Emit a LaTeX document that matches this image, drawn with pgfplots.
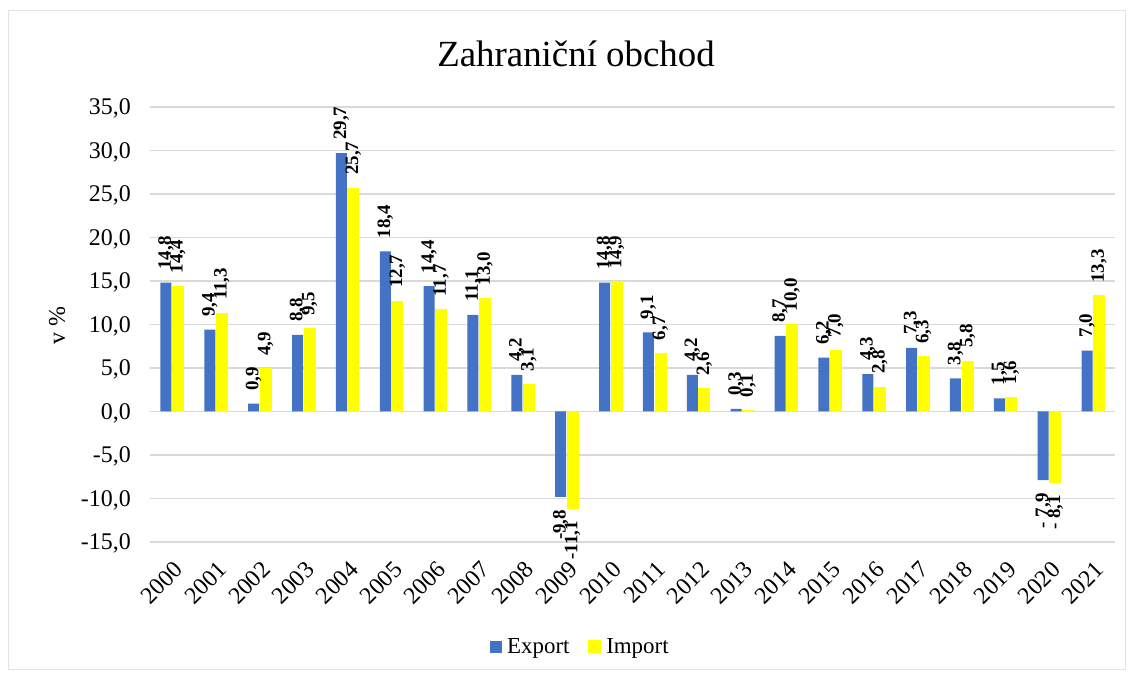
\documentclass[border=0pt]{standalone}
\usepackage{fontspec}
\setmainfont{Liberation Serif}
\usepackage{pgfplots}
\usepackage{pgfplotstable}
\pgfplotsset{compat=1.18}
\definecolor{cexp}{HTML}{4472C4}
\definecolor{cimp}{HTML}{FFFF00}
\definecolor{cgrid}{HTML}{D9D9D9}
\definecolor{cframe}{HTML}{E3E3E3}
\pgfplotstableread{
x exp imp lexp limp
0 14.8 14.4 14,8 14,4
1 9.4 11.3 9,4 11,3
2 0.9 4.9 0,9 4,9
3 8.8 9.5 8,8 9,5
4 29.7 25.7 29,7 25,7
5 18.4 12.7 18,4 12,7
6 14.4 11.7 14,4 11,7
7 11.1 13.0 11,1 13,0
8 4.2 3.1 4,2 3,1
9 -9.8 -11.1 -9,8 -11,1
10 14.8 14.9 14,8 14,9
11 9.1 6.7 9,1 6,7
12 4.2 2.6 4,2 2,6
13 0.3 0.1 0,3 0,1
14 8.7 10.0 8,7 10,0
15 6.2 7.0 6,2 7,0
16 4.3 2.8 4,3 2,8
17 7.3 6.3 7,3 6,3
18 3.8 5.8 3,8 5,8
19 1.5 1.6 1,5 1,6
20 -7.9 -8.1 {- 7,9} {- 8,1}
21 7.0 13.3 7,0 13,3
}\datatable
\pgfplotsset{
  lbl/.style={forget plot, draw=none, fill=none, point meta=explicit symbolic,
    nodes near coords,
    nodes near coords style={font=\fontsize{19}{20}\selectfont\bfseries, rotate=90,
      inner xsep=13bp, inner ysep=0bp, anchor=#1}},
}
\begin{document}
\begin{tikzpicture}
\useasboundingbox (0,0) rectangle (1133bp,677bp);
\draw[cframe, line width=1bp] (8bp,7bp) rectangle (1125bp,666bp);
\node[anchor=base, font=\fontsize{37}{40}\selectfont] at (576bp,610bp) {Zahraniční obchod};
\begin{axis}[
  at={(150bp,135bp)}, anchor=south west,
  width=965bp, height=435bp, scale only axis,
  clip=false,
  ybar, bar width=11bp,
  xmin=-0.5, xmax=21.5, ymin=-15, ymax=35,
  enlargelimits=false,
  xtick={0,...,21},
  xticklabels={2000,2001,2002,2003,2004,2005,2006,2007,2008,2009,2010,2011,2012,2013,2014,2015,2016,2017,2018,2019,2020,2021},
  ytick={-15,-10,...,35},
  axis line style={draw=none},
  major tick length=0pt,
  ymajorgrids, grid style={cgrid, line width=1.2bp},
  /pgf/number format/assume math mode=true,
  yticklabel={\pgfmathprintnumber[fixed,fixed zerofill,precision=1,use comma]{\tick}},
  yticklabel style={font=\fontsize{24}{26}\selectfont, inner sep=0pt, xshift=-19bp, yshift=-8bp, anchor=base east},
  xticklabel style={font=\fontsize{24}{26}\selectfont, inner sep=0pt, xshift=1bp, yshift=-18bp, rotate=45, anchor=north east},
  ylabel={v \%},
  ylabel style={font=\fontsize{24}{26}\selectfont, at={(axis description cs:-0.0964,0.4966)}, anchor=center},
  legend style={at={(axis description cs:0.446,-0.241)}, anchor=center, draw=none, fill=none,
    legend columns=2, font=\fontsize{23}{25}\selectfont,
    /tikz/every odd column/.append style={column sep=3bp},
    /tikz/every even column/.append style={column sep=17bp}},
  legend image code/.code={\fill[#1] (0bp,-6bp) rectangle (12bp,6bp);},
  unbounded coords=discard,
]
\addplot[fill=cexp, draw=none, bar shift=-6bp] table[x=x, y=exp] {\datatable};
\addlegendentry{Export}
\addplot[fill=cimp, draw=cimp, line width=0.8bp, bar shift=6bp] table[x=x, y=imp] {\datatable};
\addlegendentry{Import}
\addplot[lbl=west, bar shift=-6bp, restrict y to domain=0:50] table[x=x, y=exp, meta=lexp] {\datatable};
\addplot[lbl=east, bar shift=-6bp, restrict y to domain=-50:0] table[x=x, y=exp, meta=lexp] {\datatable};
\addplot[lbl=west, bar shift=6bp, restrict y to domain=0:50] table[x=x, y=imp, meta=limp] {\datatable};
\addplot[lbl=east, bar shift=6bp, restrict y to domain=-50:0] table[x=x, y=imp, meta=limp] {\datatable};
\end{axis}
\end{tikzpicture}
\end{document}
